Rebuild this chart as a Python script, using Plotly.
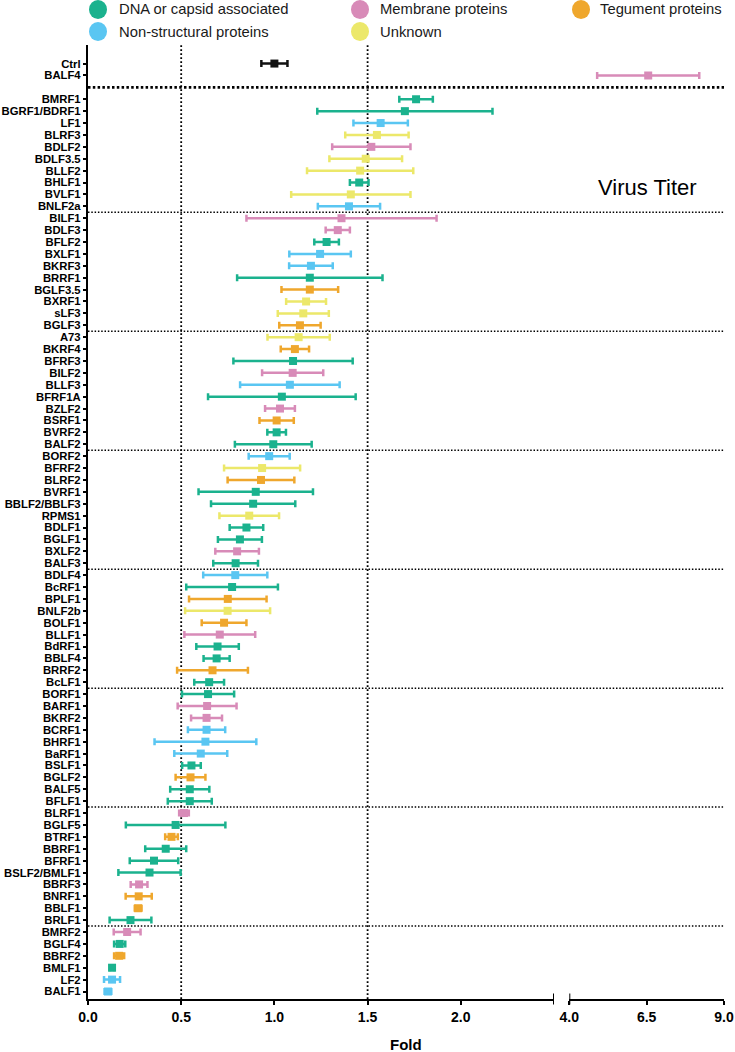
import plotly.graph_objects as go

# ---------------- data ----------------
categories = [
    "Ctrl", "BALF4",
    "BMRF1", "BGRF1/BDRF1", "LF1", "BLRF3", "BDLF2", "BDLF3.5", "BLLF2", "BHLF1", "BVLF1", "BNLF2a",
    "BILF1", "BDLF3", "BFLF2", "BXLF1", "BKRF3", "BRRF1", "BGLF3.5", "BXRF1", "sLF3", "BGLF3",
    "A73", "BKRF4", "BFRF3", "BILF2", "BLLF3", "BFRF1A", "BZLF2", "BSRF1", "BVRF2", "BALF2",
    "BORF2", "BFRF2", "BLRF2", "BVRF1", "BBLF2/BBLF3", "RPMS1", "BDLF1", "BGLF1", "BXLF2", "BALF3",
    "BDLF4", "BcRF1", "BPLF1", "BNLF2b", "BOLF1", "BLLF1", "BdRF1", "BBLF4", "BRRF2", "BcLF1",
    "BORF1", "BARF1", "BKRF2", "BCRF1", "BHRF1", "BaRF1", "BSLF1", "BGLF2", "BALF5", "BFLF1",
    "BLRF1", "BGLF5", "BTRF1", "BBRF1", "BFRF1", "BSLF2/BMLF1", "BBRF3", "BNRF1", "BBLF1", "BRLF1",
    "BMRF2", "BGLF4", "BBRF2", "BMLF1", "LF2", "BALF1",
]
fold = [
    1.00, 6.55,
    1.76, 1.70, 1.57, 1.55, 1.52, 1.49, 1.46, 1.455, 1.41, 1.40,
    1.36, 1.34, 1.28, 1.245, 1.196, 1.19, 1.19, 1.17, 1.155, 1.137,
    1.13, 1.11, 1.10, 1.098, 1.083, 1.04, 1.03, 1.012, 1.012, 0.994,
    0.972, 0.934, 0.928, 0.90, 0.886, 0.865, 0.85, 0.815, 0.80, 0.792,
    0.79, 0.773, 0.75, 0.749, 0.73, 0.707, 0.695, 0.69, 0.668, 0.65,
    0.644, 0.639, 0.636, 0.636, 0.63, 0.605, 0.555, 0.55, 0.546, 0.546,
    0.515, 0.47, 0.448, 0.417, 0.354, 0.33, 0.274, 0.272, 0.269, 0.228,
    0.21, 0.17, 0.167, 0.129, 0.129, 0.107,
]
err = [
    0.07, 1.65,
    0.09, 0.47, 0.146, 0.17, 0.21, 0.195, 0.285, 0.05, 0.32, 0.167,
    0.51, 0.065, 0.066, 0.165, 0.117, 0.39, 0.152, 0.107, 0.137, 0.111,
    0.167, 0.076, 0.32, 0.164, 0.267, 0.396, 0.08, 0.092, 0.05, 0.206,
    0.11, 0.204, 0.179, 0.307, 0.226, 0.16, 0.09, 0.118, 0.117, 0.12,
    0.172, 0.246, 0.208, 0.228, 0.12, 0.19, 0.114, 0.07, 0.19, 0.08,
    0.14, 0.158, 0.083, 0.10, 0.273, 0.142, 0.05, 0.08, 0.105, 0.118,
    0.026, 0.267, 0.034, 0.11, 0.13, 0.167, 0.045, 0.07, 0.018, 0.112,
    0.072, 0.03, 0.027, 0.01, 0.043, 0.018,
]
group = [
    "ctrl", "mem",
    "dna", "dna", "ns", "unk", "mem", "unk", "unk", "dna", "unk", "ns",
    "mem", "mem", "dna", "ns", "ns", "dna", "teg", "unk", "unk", "teg",
    "unk", "teg", "dna", "mem", "ns", "dna", "mem", "teg", "dna", "dna",
    "ns", "unk", "teg", "dna", "dna", "unk", "dna", "dna", "mem", "dna",
    "ns", "dna", "teg", "unk", "teg", "mem", "dna", "dna", "teg", "dna",
    "dna", "mem", "mem", "ns", "ns", "ns", "dna", "teg", "dna", "dna",
    "mem", "dna", "teg", "dna", "dna", "dna", "mem", "teg", "teg", "dna",
    "mem", "dna", "teg", "dna", "ns", "ns",
]
group_names = {
    "dna": "DNA or capsid associated",
    "mem": "Membrane proteins",
    "teg": "Tegument proteins",
    "ns": "Non-structural proteins",
    "unk": "Unknown",
}
group_colors = {
    "ctrl": "#111111",
    "dna": "#1BB28E",
    "mem": "#D88BB8",
    "teg": "#EFA72D",
    "ns": "#5AC6F2",
    "unk": "#ECE86A",
}
x_ticks_low = [0.0, 0.5, 1.0, 1.5, 2.0]
x_ticks_high = [4.0, 6.5, 9.0]
separators_after = ["BNLF2a", "BGLF3", "BALF2", "BALF3", "BcLF1", "BFLF1", "BRLF1"]

# ---------------- layout helpers ----------------
W, H = 735, 1052
ML, MR, MT, MB = 88, 11, 45, 53
PW, PH = W - ML - MR, H - MT - MB


def px_x(p):
    return (p - ML) / PW


def px_y(p):
    return (H - MB - p) / PH


# positions: an empty slot after the first two rows
pos = [i if i < 2 else i + 1 for i in range(len(categories))]

fig = go.Figure()
for g in ["ctrl", "dna", "mem", "teg", "ns", "unk"]:
    for axis, keep in (("x", lambda v: v <= 2.5), ("x2", lambda v: v >= 4.0)):
        idx = [i for i in range(len(categories)) if group[i] == g and keep(fold[i])]
        if not idx:
            continue
        c = group_colors[g]
        fig.add_trace(go.Scatter(
            x=[fold[i] for i in idx],
            y=[pos[i] for i in idx],
            xaxis=axis, yaxis="y",
            mode="markers",
            marker=dict(symbol="square", size=8, color=c),
            error_x=dict(type="data", array=[err[i] for i in idx], symmetric=True,
                         color=c, thickness=2.5, width=3.5),
            showlegend=False, hoverinfo="skip",
        ))

shapes = []
# vertical dotted reference lines
for v in (0.5, 1.5):
    shapes.append(dict(type="line", xref="x", yref="paper", x0=v, x1=v, y0=0, y1=1,
                       line=dict(color="black", width=1.8, dash="1.8px,2.2px"), layer="below"))
# first heavy dotted separator
shapes.append(dict(type="line", xref="paper", yref="y", x0=0, x1=1, y0=2, y1=2,
                   line=dict(color="black", width=2.6, dash="2.5px,2.3px"), layer="below"))
for name in separators_after:
    yv = pos[categories.index(name)] + 0.5
    shapes.append(dict(type="line", xref="paper", yref="y", x0=0, x1=1, y0=yv, y1=yv,
                       line=dict(color="black", width=1.5, dash="1.5px,1.8px"), layer="below"))
# axis break bars
for xr, xv in (("x", 2.5), ("x2", 4.0)):
    shapes.append(dict(type="line", xref=xr, yref="paper", x0=xv, x1=xv,
                       y0=-5.5 / PH, y1=5.5 / PH, line=dict(color="black", width=2)))

# legend (manual)
legend_items = [("dna", 98, 117, 9.5), ("mem", 360, 378, 9.5), ("teg", 581, 598, 9.5),
                ("ns", 98, 117, 31.5), ("unk", 360, 378, 31.5)]
annotations = []
for g, cx, tx, cy in legend_items:
    shapes.append(dict(type="circle", xref="paper", yref="paper",
                       xsizemode="pixel", ysizemode="pixel",
                       xanchor=px_x(cx), yanchor=px_y(cy),
                       x0=-9, x1=9, y0=-9.5, y1=9.5,
                       fillcolor=group_colors[g], line=dict(width=0)))
    annotations.append(dict(text=group_names[g], xref="paper", yref="paper",
                            x=px_x(tx), y=px_y(cy), xanchor="left", yanchor="middle",
                            showarrow=False,
                            font=dict(family="Liberation Sans, Arial", size=14.8, color="#1a1a1a")))

annotations.append(dict(text="Virus Titer", xref="paper", yref="paper",
                        x=px_x(647), y=px_y(187), xanchor="center", yanchor="middle",
                        showarrow=False,
                        font=dict(family="Liberation Sans, Arial", size=22, color="black")))
annotations.append(dict(text="Fold", xref="paper", yref="paper",
                        x=px_x(406), y=px_y(1044), xanchor="center", yanchor="middle",
                        showarrow=False,
                        font=dict(family="Liberation Sans, Arial", size=15, color="black", weight="bold")))

tickfont = dict(family="Liberation Sans, Arial", size=14, color="black", weight="bold")
d1_end = (554 - ML) / PW
d2_start = (569.3 - ML) / PW

fig.update_layout(
    width=W, height=H,
    margin=dict(l=ML, r=MR, t=MT, b=MB, pad=0, autoexpand=False),
    paper_bgcolor="white", plot_bgcolor="white",
    showlegend=False,
    shapes=shapes, annotations=annotations,
    xaxis=dict(domain=[0, d1_end], range=[0, 2.5], tickvals=x_ticks_low,
               ticktext=[f"{v:.1f}" for v in x_ticks_low],
               showline=True, linecolor="black", linewidth=2, ticks="outside",
               ticklen=4, tickwidth=2, tickcolor="black", showgrid=False, zeroline=False,
               tickfont=tickfont, anchor="y", automargin=False),
    xaxis2=dict(domain=[d2_start, 1], range=[4.0, 9.0], tickvals=x_ticks_high,
                ticktext=[f"{v:.1f}" for v in x_ticks_high],
                showline=True, linecolor="black", linewidth=2, ticks="outside",
                ticklen=4, tickwidth=2, tickcolor="black", showgrid=False, zeroline=False,
                tickfont=tickfont, anchor="y", automargin=False),
    yaxis=dict(range=[78.63, -1.56], tickvals=pos, ticktext=categories,
               showline=True, linecolor="black", linewidth=2.2, ticks="outside",
               ticklen=3, tickwidth=1.5, tickcolor="black", showgrid=False, zeroline=False,
               tickfont=dict(family="Liberation Sans, Arial", size=11.3, color="black", weight="bold"),
               anchor="x", automargin=False),
)

fig.write_html("out.html")
